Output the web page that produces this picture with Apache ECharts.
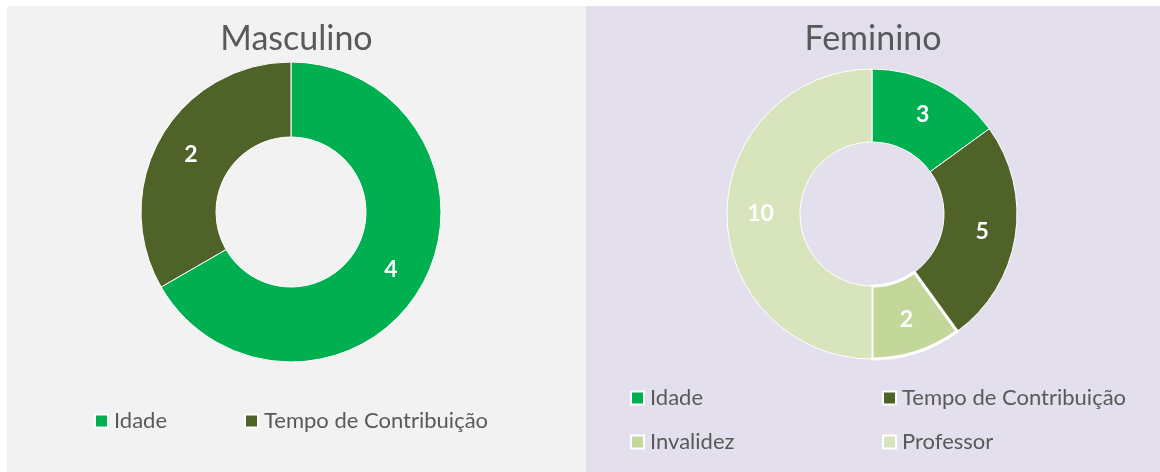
<!DOCTYPE html>
<html>
<head>
<meta charset="utf-8">
<script src="https://cdn.jsdelivr.net/npm/echarts@6/dist/echarts.min.js"></script>
<style>
  html, body { margin: 0; padding: 0; background: #fff; }
  #wrap { position: relative; width: 1160px; height: 472px; }
  #left { position: absolute; left: 7px; top: 6px; width: 579px; height: 466px; background: #f2f2f2; }
  #right { position: absolute; left: 586px; top: 6px; width: 574px; height: 466px; background: #e4dfec; }
</style>
</head>
<body>
<div id="wrap">
  <div id="left"></div>
  <div id="right"></div>
</div>
<script>
  // dados
  const mascCategorias = ['Idade', 'Tempo de Contribuição']
  const mascValores = [4, 2]
  const femCategorias = ['Idade', 'Tempo de Contribuição', 'Invalidez', 'Professor']
  const femValores = [3, 5, 2, 10]
  const cores = {
    'Idade': '#00b050',
    'Tempo de Contribuição': '#4f6228',
    'Invalidez': '#c4d79b',
    'Professor': '#d8e4bc'
  }

  const fonte = 'Lato, "Noto Sans", sans-serif'
  const corTexto = '#595959'

  function montaDados(cats, vals) {
    return cats.map((c, i) => ({
      name: c,
      value: vals[i],
      itemStyle: {
        color: cores[c],
        borderColor: '#fff',
        borderWidth: c === 'Invalidez' ? 3 : 1
      }
    }))
  }

  function legendas(itens) {
    return itens.map(it => ({
      data: [it.name],
      left: it.left,
      top: it.top,
      padding: 0,
      icon: 'rect',
      itemWidth: 13,
      itemHeight: 13,
      itemGap: 0,
      textStyle: { color: corTexto, fontSize: 22, fontFamily: fonte, padding: [0, 0, 0, 1] }
    }))
  }

  function opcao(titulo, cats, vals, centro, raio, itensLegenda) {
    return {
      animation: false,
      title: {
        text: titulo,
        left: 'center',
        top: 11,
        textStyle: { color: corTexto, fontSize: 34, fontWeight: 'normal', fontFamily: fonte }
      },
      legend: legendas(itensLegenda),
      series: [{
        type: 'pie',
        center: centro,
        radius: raio,
        startAngle: 90,
        clockwise: true,
        label: {
          show: true,
          position: 'inside',
          formatter: '{c}',
          color: '#fff',
          fontSize: 23,
          fontWeight: 'bold',
          fontFamily: fonte
        },
        labelLine: { show: false },
        emphasis: { disabled: true },
        data: montaDados(cats, vals)
      }]
    }
  }

  let chartM = echarts.init(document.getElementById('left'))
  chartM.setOption(opcao('Masculino', mascCategorias, mascValores, [284, 206], [75, 150], [
    { name: 'Idade', left: 87, top: 404 },
    { name: 'Tempo de Contribuição', left: 237, top: 404 }
  ]))

  let chartF = echarts.init(document.getElementById('right'))
  chartF.setOption(opcao('Feminino', femCategorias, femValores, [286, 208], [72, 145], [
    { name: 'Idade', left: 44, top: 381 },
    { name: 'Tempo de Contribuição', left: 296, top: 381 },
    { name: 'Invalidez', left: 44, top: 425 },
    { name: 'Professor', left: 296, top: 425 }
  ]))
</script>
</body>
</html>
